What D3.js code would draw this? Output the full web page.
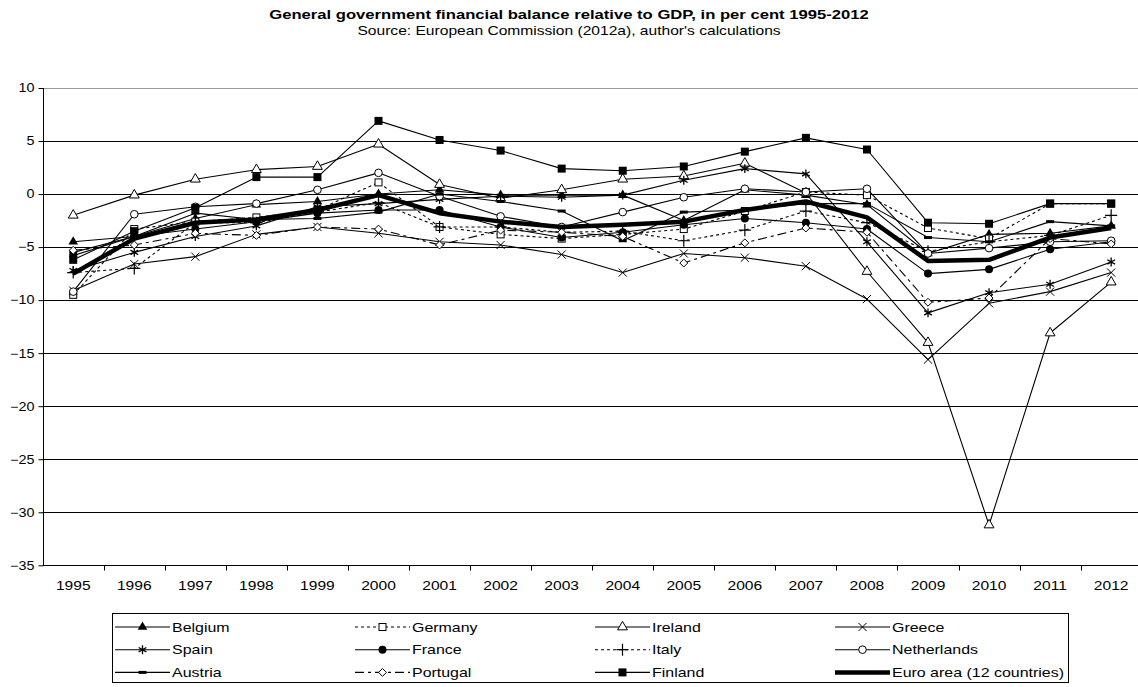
<!DOCTYPE html>
<html><head><meta charset="utf-8">
<script src="https://cdn.jsdelivr.net/npm/d3@7"></script>
<style>body{margin:0;background:#fff;} svg{font-family:"Liberation Sans",Arial,sans-serif;display:block;}</style>
</head><body><svg id="c" width="1138" height="687"></svg>
<script>
// ---------- data ----------
const years = ["1995","1996","1997","1998","1999","2000","2001","2002","2003","2004","2005","2006","2007","2008","2009","2010","2011","2012"];
const belgium     = [-4.5,-4.0,-2.3,-1.0,-0.7, 0.0, 0.4,-0.1,-0.1,-0.1,-2.5, 0.4,-0.1,-1.0,-5.6,-3.8,-3.7,-3.0];
const germany     = [-9.5,-3.3,-2.6,-2.2,-1.5, 1.1,-3.1,-3.8,-4.2,-3.8,-3.3,-1.6, 0.2,-0.1,-3.2,-4.2,-0.9,-0.9];
const ireland     = [-2.0,-0.1, 1.4, 2.3, 2.6, 4.7, 0.9,-0.4, 0.4, 1.4, 1.7, 2.9, 0.1,-7.3,-14.0,-31.2,-13.1,-8.3];
const greece      = [-9.1,-6.6,-5.9,-3.8,-3.1,-3.7,-4.5,-4.8,-5.7,-7.4,-5.6,-6.0,-6.8,-9.9,-15.6,-10.3,-9.2,-7.4];
const spain       = [-7.2,-5.5,-4.0,-3.0,-1.2,-0.9,-0.5,-0.2,-0.3,-0.1, 1.3, 2.4, 1.9,-4.5,-11.2,-9.3,-8.5,-6.4];
const france      = [-5.5,-4.0,-3.3,-2.6,-1.8,-1.5,-1.5,-3.1,-4.1,-3.6,-2.9,-2.3,-2.7,-3.3,-7.5,-7.1,-5.2,-4.5];
const italy       = [-7.4,-7.0,-2.7,-2.7,-1.7,-0.8,-3.1,-3.1,-3.6,-3.5,-4.4,-3.4,-1.6,-2.7,-5.4,-4.5,-3.9,-2.0];
const netherlands = [-9.2,-1.9,-1.2,-0.9, 0.4, 2.0,-0.2,-2.1,-3.1,-1.7,-0.3, 0.5, 0.2, 0.5,-5.6,-5.1,-4.5,-4.4];
const austria     = [-5.8,-4.0,-1.8,-2.4,-2.3,-1.7, 0.0,-0.7,-1.6,-4.4,-1.7,-1.5,-0.9,-0.9,-4.1,-4.5,-2.6,-3.0];
const portugal    = [-5.3,-4.8,-3.7,-3.9,-3.1,-3.3,-4.8,-3.4,-3.6,-4.0,-6.5,-4.6,-3.2,-3.6,-10.2,-9.8,-4.2,-4.7];
const finland     = [-6.2,-3.5,-1.3, 1.6, 1.6, 6.9, 5.1, 4.1, 2.4, 2.2, 2.6, 4.0, 5.3, 4.2,-2.7,-2.8,-0.9,-0.9];
const euroArea    = [-7.5,-4.2,-2.7,-2.4,-1.5,-0.1,-1.8,-2.6,-3.1,-2.9,-2.6,-1.5,-0.7,-2.2,-6.3,-6.2,-4.1,-3.2];
const yTicks = [10,5,0,-5,-10,-15,-20,-25,-30,-35];
const titleText = "General government financial balance relative to GDP, in per cent 1995-2012";
const subtitleText = "Source: European Commission (2012a), author's calculations";

// ---------- series table (built from the arrays) ----------
const series = [
  {name:"Belgium", values:belgium, dash:null, marker:"triFilled"},
  {name:"Germany", values:germany, dash:"3,3", marker:"squareOpen"},
  {name:"Ireland", values:ireland, dash:null, marker:"triOpen"},
  {name:"Greece", values:greece, dash:null, marker:"x"},
  {name:"Spain", values:spain, dash:null, marker:"star"},
  {name:"France", values:france, dash:null, marker:"circleFilled"},
  {name:"Italy", values:italy, dash:"3,3", marker:"plus"},
  {name:"Netherlands", values:netherlands, dash:null, marker:"circleOpen"},
  {name:"Austria", values:austria, dash:null, marker:"dash"},
  {name:"Portugal", values:portugal, dash:"9,4,3,4", marker:"diamondOpen"},
  {name:"Finland", values:finland, dash:null, marker:"squareFilled"},
  {name:"Euro area (12 countries)", values:euroArea, dash:null, marker:null, thick:true}
];

const svg = d3.select("#c");
const W = 1138;
const pLeft = 42.7, pRight = 1141.7, pTop = 88, pBottom = 565.3;
const SX = 1.3; // horizontal text stretch seen in the reference

const x = d3.scaleBand().domain(years).range([pLeft, pRight]).padding(0);
const y = d3.scaleLinear().domain([-35, 10]).range([pBottom, pTop]);
const cx = d => x(d) + x.bandwidth() / 2;

function stretchedText(parent, tx, ty, str, size, anchor, weight, sx) {
  const g = parent.append("g").attr("transform", `translate(${tx},${ty}) scale(${sx},1)`);
  return g.append("text").attr("x", 0).attr("y", 0).attr("text-anchor", anchor)
    .attr("font-size", size).attr("font-weight", weight).attr("fill", "#000").text(str);
}

// titles
stretchedText(svg, 569, 19, titleText, 13, "middle", "bold", 1.28);
stretchedText(svg, 569, 35, subtitleText, 12, "middle", "normal", 1.3);

// gridlines
svg.append("g").selectAll("line").data(yTicks.filter(t => t > -35)).join("line")
  .attr("x1", pLeft).attr("x2", W).attr("y1", d => Math.round(y(d)) + 0.5).attr("y2", d => Math.round(y(d)) + 0.5)
  .attr("stroke", d => d === 10 ? "#9a9a9a" : "#000").attr("stroke-width", 1);

// y axis
const ySx = 1.2;
const yAxis = svg.append("g").attr("transform", `translate(${Math.round(pLeft) + 0.5},0)`)
  .call(d3.axisLeft(y).tickValues(yTicks).tickSize(5).tickPadding(4).tickFormat(d3.format("d")));
yAxis.selectAll("text").attr("font-size", 12).attr("font-family", "Liberation Sans, Arial, sans-serif")
  .attr("fill", "#000").attr("x", -9 / ySx).attr("transform", `scale(${ySx},1)`);
yAxis.selectAll("line,path").attr("stroke", "#000");
yAxis.select(".domain").attr("d", `M0,${pTop}V${pBottom}`);

// x axis
const xAxis = svg.append("g").attr("transform", `translate(0,${Math.round(pBottom) + 0.5})`)
  .call(d3.axisBottom(x).tickSize(0).tickPadding(16));
xAxis.selectAll("text").attr("font-size", 12).attr("font-family", "Liberation Sans, Arial, sans-serif")
  .attr("fill", "#000").attr("transform", `scale(${SX},1)`);
xAxis.select(".domain").attr("d", `M${pLeft},0H${W}`).attr("stroke", "#000");
xAxis.selectAll(".tickmark").data(years.slice(1)).join("line").attr("class", "tickmark")
  .attr("x1", d => Math.round(x(d)) + 0.5).attr("x2", d => Math.round(x(d)) + 0.5)
  .attr("y1", 0).attr("y2", 5).attr("stroke", "#000");

// marker drawing
function drawMarker(g, type, px, py) {
  const sym = (t, s) => d3.symbol().type(t).size(s)();
  const tr = `translate(${px},${py})`;
  switch (type) {
    case "triFilled": g.append("path").attr("d", sym(d3.symbolTriangle, 40)).attr("transform", tr).attr("fill", "#000"); break;
    case "triOpen": g.append("path").attr("d", sym(d3.symbolTriangle, 42)).attr("transform", tr).attr("fill", "#fff").attr("stroke", "#000").attr("stroke-width", 1); break;
    case "squareOpen": g.append("rect").attr("x", px - 3.5).attr("y", py - 3.5).attr("width", 7).attr("height", 7).attr("fill", "#fff").attr("stroke", "#000"); break;
    case "squareFilled": g.append("rect").attr("x", px - 4).attr("y", py - 4).attr("width", 8).attr("height", 8).attr("fill", "#000"); break;
    case "circleFilled": g.append("circle").attr("cx", px).attr("cy", py).attr("r", 4).attr("fill", "#000"); break;
    case "circleOpen": g.append("circle").attr("cx", px).attr("cy", py).attr("r", 3.8).attr("fill", "#fff").attr("stroke", "#000"); break;
    case "x": g.append("path").attr("d", sym(d3.symbolX, 45)).attr("transform", tr).attr("fill", "none").attr("stroke", "#000"); break;
    case "star": g.append("path").attr("d", sym(d3.symbolAsterisk, 55)).attr("transform", tr).attr("fill", "none").attr("stroke", "#000").attr("stroke-width", 1.3); break;
    case "plus": g.append("path").attr("d", sym(d3.symbolPlus, 50)).attr("transform", tr).attr("fill", "none").attr("stroke", "#000").attr("stroke-width", 1.2); break;
    case "diamondOpen": g.append("path").attr("d", sym(d3.symbolDiamond2, 40)).attr("transform", tr).attr("fill", "#fff").attr("stroke", "#000"); break;
    case "dash": g.append("rect").attr("x", px - 4).attr("y", py - 1.5).attr("width", 8).attr("height", 3).attr("fill", "#000"); break;
  }
}

// lines
const line = d3.line().x((d, i) => cx(years[i])).y(d => y(d));
const plot = svg.append("g");
series.forEach(s => {
  plot.append("path").attr("d", line(s.values)).attr("fill", "none").attr("stroke", "#000")
    .attr("stroke-width", s.thick ? 4.5 : 1.1).attr("stroke-dasharray", s.dash)
    .attr("stroke-linejoin", "round");
  if (s.marker) {
    const mg = plot.append("g");
    s.values.forEach((v, i) => drawMarker(mg, s.marker, cx(years[i]), y(v)));
  }
});

// legend
const lg = svg.append("g");
const lgX0 = 112, lgY0 = 613, lgW = 956, lgH = 69;
lg.append("rect").attr("x", lgX0 + 0.5).attr("y", lgY0 + 0.5).attr("width", lgW).attr("height", lgH)
  .attr("fill", "#fff").attr("stroke", "#000");
series.forEach((s, i) => {
  const col = i % 4, row = Math.floor(i / 4);
  const lx = 115 + col * 240, ly = 627 + row * 22.7;
  lg.append("line").attr("x1", lx).attr("x2", lx + 55).attr("y1", ly).attr("y2", ly)
    .attr("stroke", "#000").attr("stroke-width", s.thick ? 4.5 : 1.1).attr("stroke-dasharray", s.dash);
  if (s.marker) drawMarker(lg, s.marker, lx + 27.5, ly);
  stretchedText(lg, lx + 57, ly + 4.5, s.name, 12, "start", "normal", 1.33);
});
</script></body></html>
